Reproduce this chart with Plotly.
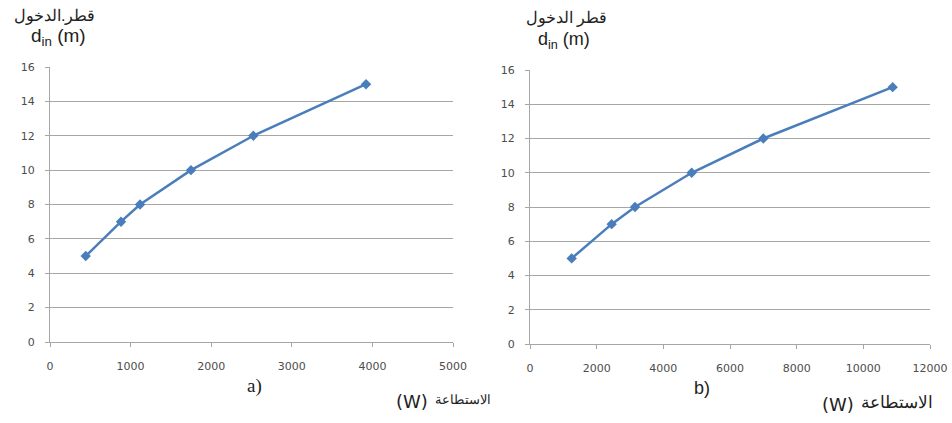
import plotly.graph_objects as go

# Chart a)
power_a = [443, 881, 1117, 1749, 2523, 3921]
diam_a = [5, 7, 8, 10, 12, 15]
# Chart b)
power_b = [1250, 2450, 3150, 4850, 7000, 10880]
diam_b = [5, 7, 8, 10, 12, 15]

y_title_ar_a = "قطر.الدخول"
y_title_ar_b = "قطر الدخول"
y_title_en = "d<sub>in</sub> (m)"
x_title_ar = "الاستطاعة"
x_title_unit = "(W)"

W, H = 952, 423
LINE = "#4A7EBB"
GRID = "#A6A6A6"
TICKC = "#4D4D4D"
FONT = "DejaVu Sans"
TFONT = "Liberation Sans"

fig = go.Figure()
fig.add_trace(go.Scatter(x=power_a, y=diam_a, mode="lines+markers",
                         line=dict(color=LINE, width=2.5),
                         marker=dict(symbol="diamond", size=8, color=LINE),
                         xaxis="x", yaxis="y", showlegend=False))
fig.add_trace(go.Scatter(x=power_b, y=diam_b, mode="lines+markers",
                         line=dict(color=LINE, width=2.5),
                         marker=dict(symbol="diamond", size=8, color=LINE),
                         xaxis="x2", yaxis="y2", showlegend=False))

def px(x):
    return x / W

def py(y):
    return 1 - y / H

common_x = dict(showgrid=False, zeroline=False, showline=True, linecolor=GRID,
                linewidth=1, ticks="outside", ticklen=4, tickcolor=GRID,
                automargin=False, tickformat="d", ticklabelstandoff=10,
                tickfont=dict(size=11, color=TICKC, family=FONT))
common_y = dict(showgrid=True, gridcolor=GRID, gridwidth=1, zeroline=False,
                showline=True, linecolor=GRID, linewidth=1, ticks="outside",
                ticklen=4, tickcolor=GRID, range=[0, 16], dtick=2,
                automargin=False, ticklabelstandoff=8,
                tickfont=dict(size=11, color=TICKC, family=FONT))

fig.update_layout(
    width=W, height=H,
    margin=dict(l=0, r=0, t=0, b=0),
    paper_bgcolor="white", plot_bgcolor="white",
    xaxis=dict(domain=[px(50), px(453)], range=[0, 5000], dtick=1000,
               anchor="y", **common_x),
    yaxis=dict(domain=[py(342), py(67)], anchor="x", **common_y),
    xaxis2=dict(domain=[px(530), px(930)], range=[0, 12000], dtick=2000,
                anchor="y2", **common_x),
    yaxis2=dict(domain=[py(344), py(70)], anchor="x2", **common_y),
)

ann = [
    dict(text=y_title_ar_a, x=54, y=16, size=16, xa="center", f=TFONT),
    dict(text=y_title_en, x=58, y=37, size=19, xa="center", f=TFONT),
    dict(text=y_title_ar_b, x=566, y=18, size=16, xa="center", f=TFONT),
    dict(text=y_title_en, x=564, y=40, size=18, xa="center", f=TFONT),
    dict(text="a)", x=254, y=386, size=19, xa="center", f="Liberation Serif"),
    dict(text="b)", x=702, y=388, size=18, xa="center", f=TFONT),
    dict(text=x_title_unit, x=430, y=401, size=18, xa="right", f=FONT),
    dict(text=x_title_ar, x=433, y=399, size=13, xa="left", f=TFONT),
    dict(text=x_title_unit, x=856, y=404, size=18, xa="right", f=FONT),
    dict(text=x_title_ar, x=859, y=402, size=17, xa="left", f=TFONT),
]
for a in ann:
    fig.add_annotation(text=a["text"], x=px(a["x"]), y=py(a["y"]),
                       xref="paper", yref="paper", showarrow=False,
                       xanchor=a["xa"], yanchor="middle",
                       font=dict(size=a["size"], color="#222222", family=a["f"]))

fig.write_html("out.html", config={"displayModeBar": False},
               post_script="document.body.style.margin='0';"
                           "document.body.style.overflow='hidden';")
